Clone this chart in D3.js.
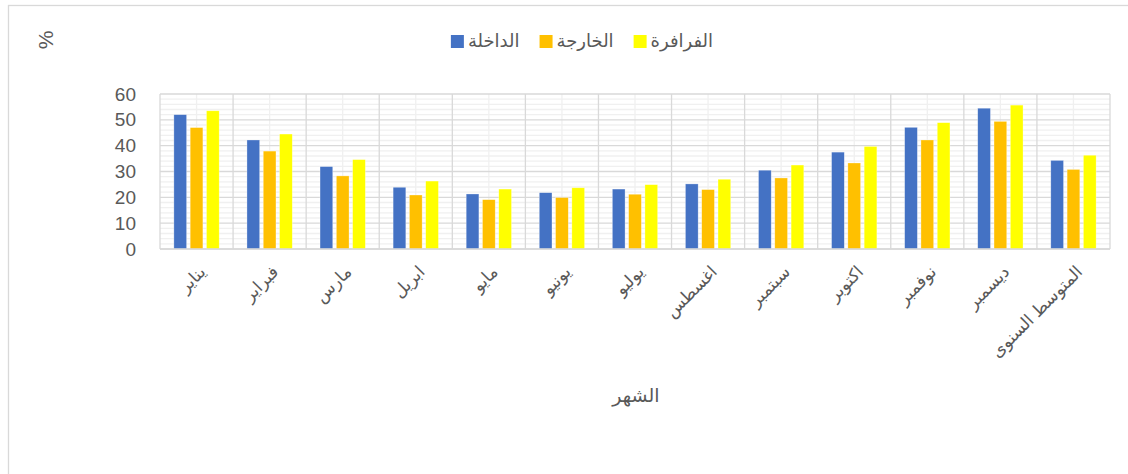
<!DOCTYPE html>
<html>
<head>
<meta charset="utf-8">
<script src="https://cdn.jsdelivr.net/npm/d3@7"></script>
<style>
  body { margin: 0; background: #fff; }
  text { font-family: "Liberation Sans", "DejaVu Sans", Arial, sans-serif; fill: #595959; }
</style>
</head>
<body>
<div id="chart"></div>
<script>
// months + annual average
var months = ["يناير", "فبراير", "مارس", "ابريل", "مايو", "يونيو", "يوليو",
              "اغسطس", "سبتمبر", "اكتوبر", "نوفمبر", "ديسمبر", "المتوسط السنوى"];
var seriesNames = ["الداخلة", "الخارجة", "الفرافرة"];
var dakhla   = [52.0, 42.2, 31.9, 23.9, 21.3, 21.8, 23.2, 25.2, 30.5, 37.5, 47.1, 54.5, 34.3];
var kharga   = [47.0, 37.9, 28.3, 20.9, 19.1, 19.9, 21.2, 23.0, 27.5, 33.3, 42.2, 49.4, 30.8];
var farafra  = [53.5, 44.5, 34.6, 26.3, 23.2, 23.7, 24.9, 27.0, 32.5, 39.7, 48.9, 55.7, 36.3];
var yTicks = [0, 10, 20, 30, 40, 50, 60];
var colors = ["#4472C4", "#FFC000", "#FFFF00"];

var width = 1128, height = 474;
var margin = {left: 160, right: 18, top: 94, bottom: 225};

var svg = d3.select("#chart").append("svg")
    .attr("width", width)
    .attr("height", height);

// chart area frame
svg.append("rect")
    .attr("x", 8.5).attr("y", 5.5)
    .attr("width", 1300).attr("height", 600)
    .attr("fill", "#fff")
    .attr("stroke", "#d9d9d9")
    .attr("stroke-width", 1.3);

var x0 = d3.scaleBand()
    .domain(months)
    .range([margin.left, width - margin.right])
    .paddingInner(0.38)
    .paddingOuter(0.19);

var x1 = d3.scaleBand()
    .domain(d3.range(3))
    .range([0, x0.bandwidth()])
    .paddingInner(0.22);

var y = d3.scaleLinear()
    .domain([0, 60])
    .range([height - margin.bottom, margin.top]);

var step = x0.step();
var plotL = margin.left, plotR = width - margin.right;

// minor horizontal grid
svg.append("g").selectAll("line")
    .data(d3.range(0, 61, 2).filter(d => d % 10 != 0))
    .enter().append("line")
    .attr("x1", plotL).attr("x2", plotR)
    .attr("y1", d => y(d)).attr("y2", d => y(d))
    .attr("stroke", "#f0f0f0").attr("stroke-width", 1.3);

// minor vertical grid (category centres)
svg.append("g").selectAll("line")
    .data(months)
    .enter().append("line")
    .attr("x1", d => x0(d) + x0.bandwidth() / 2).attr("x2", d => x0(d) + x0.bandwidth() / 2)
    .attr("y1", y(0)).attr("y2", y(60))
    .attr("stroke", "#f0f0f0").attr("stroke-width", 1.3);

// major horizontal grid
svg.append("g").selectAll("line")
    .data(yTicks)
    .enter().append("line")
    .attr("x1", plotL).attr("x2", plotR)
    .attr("y1", d => y(d)).attr("y2", d => y(d))
    .attr("stroke", "#d9d9d9").attr("stroke-width", 1.3);

// major vertical grid (category boundaries)
var bounds = months.map(d => x0(d) + x0.bandwidth() / 2 - step / 2);
bounds.push(plotR);
svg.append("g").selectAll("line")
    .data(bounds)
    .enter().append("line")
    .attr("x1", d => d).attr("x2", d => d)
    .attr("y1", y(0)).attr("y2", y(60))
    .attr("stroke", "#d9d9d9").attr("stroke-width", 1.3);

// bars
var allSeries = [dakhla, kharga, farafra];
var groups = svg.append("g").selectAll("g")
    .data(months)
    .enter().append("g")
    .attr("transform", d => "translate(" + x0(d) + ",0)");

groups.selectAll("rect")
    .data((d, i) => allSeries.map((s, k) => ({k: k, v: s[i]})))
    .enter().append("rect")
    .attr("x", d => x1(d.k))
    .attr("width", x1.bandwidth())
    .attr("y", d => y(d.v))
    .attr("height", d => y(0) - y(d.v))
    .attr("fill", d => colors[d.k])
    .attr("stroke", "#ffffff")
    .attr("stroke-opacity", 0.5)
    .attr("stroke-width", 0.6);

// bottom axis line
svg.append("line")
    .attr("x1", plotL).attr("x2", plotR)
    .attr("y1", y(0)).attr("y2", y(0))
    .attr("stroke", "#d9d9d9").attr("stroke-width", 1.3);

// y tick labels
svg.append("g").selectAll("text")
    .data(yTicks)
    .enter().append("text")
    .attr("x", 136)
    .attr("y", d => y(d))
    .attr("dy", "0.35em")
    .attr("text-anchor", "end")
    .style("font-size", "19px")
    .text(d => d);

// x labels, rotated
svg.append("g").selectAll("text")
    .data(months)
    .enter().append("text")
    .attr("transform", d => "translate(" + (x0(d) + x0.bandwidth() / 2 + 10) + "," + (y(0) + 24) + ") rotate(-45)")
    .attr("text-anchor", "end")
    .style("font-size", "17px")
    .text(d => d);

// axis titles
svg.append("text")
    .attr("x", 636).attr("y", 402)
    .attr("text-anchor", "middle")
    .style("font-size", "19px")
    .text("الشهر");

svg.append("text")
    .attr("transform", "translate(53,40) rotate(-90)")
    .attr("text-anchor", "middle")
    .style("font-size", "21px")
    .text("%");

// legend
var legend = svg.append("g");
var lx = 0;
seriesNames.forEach((name, k) => {
    var item = legend.append("g").attr("transform", "translate(" + lx + ",0)");
    item.append("rect")
        .attr("x", 0).attr("y", -6)
        .attr("width", 13).attr("height", 13)
        .attr("fill", colors[k]);
    var t = item.append("text")
        .attr("x", 17).attr("y", 0)
        .attr("dy", "0.35em")
        .style("font-size", "18px")
        .text(name);
    lx += 17 + t.node().getComputedTextLength() + 20;
});
lx -= 20;
legend.attr("transform", "translate(" + (582 - lx / 2) + ",41)");
</script>
</body>
</html>
